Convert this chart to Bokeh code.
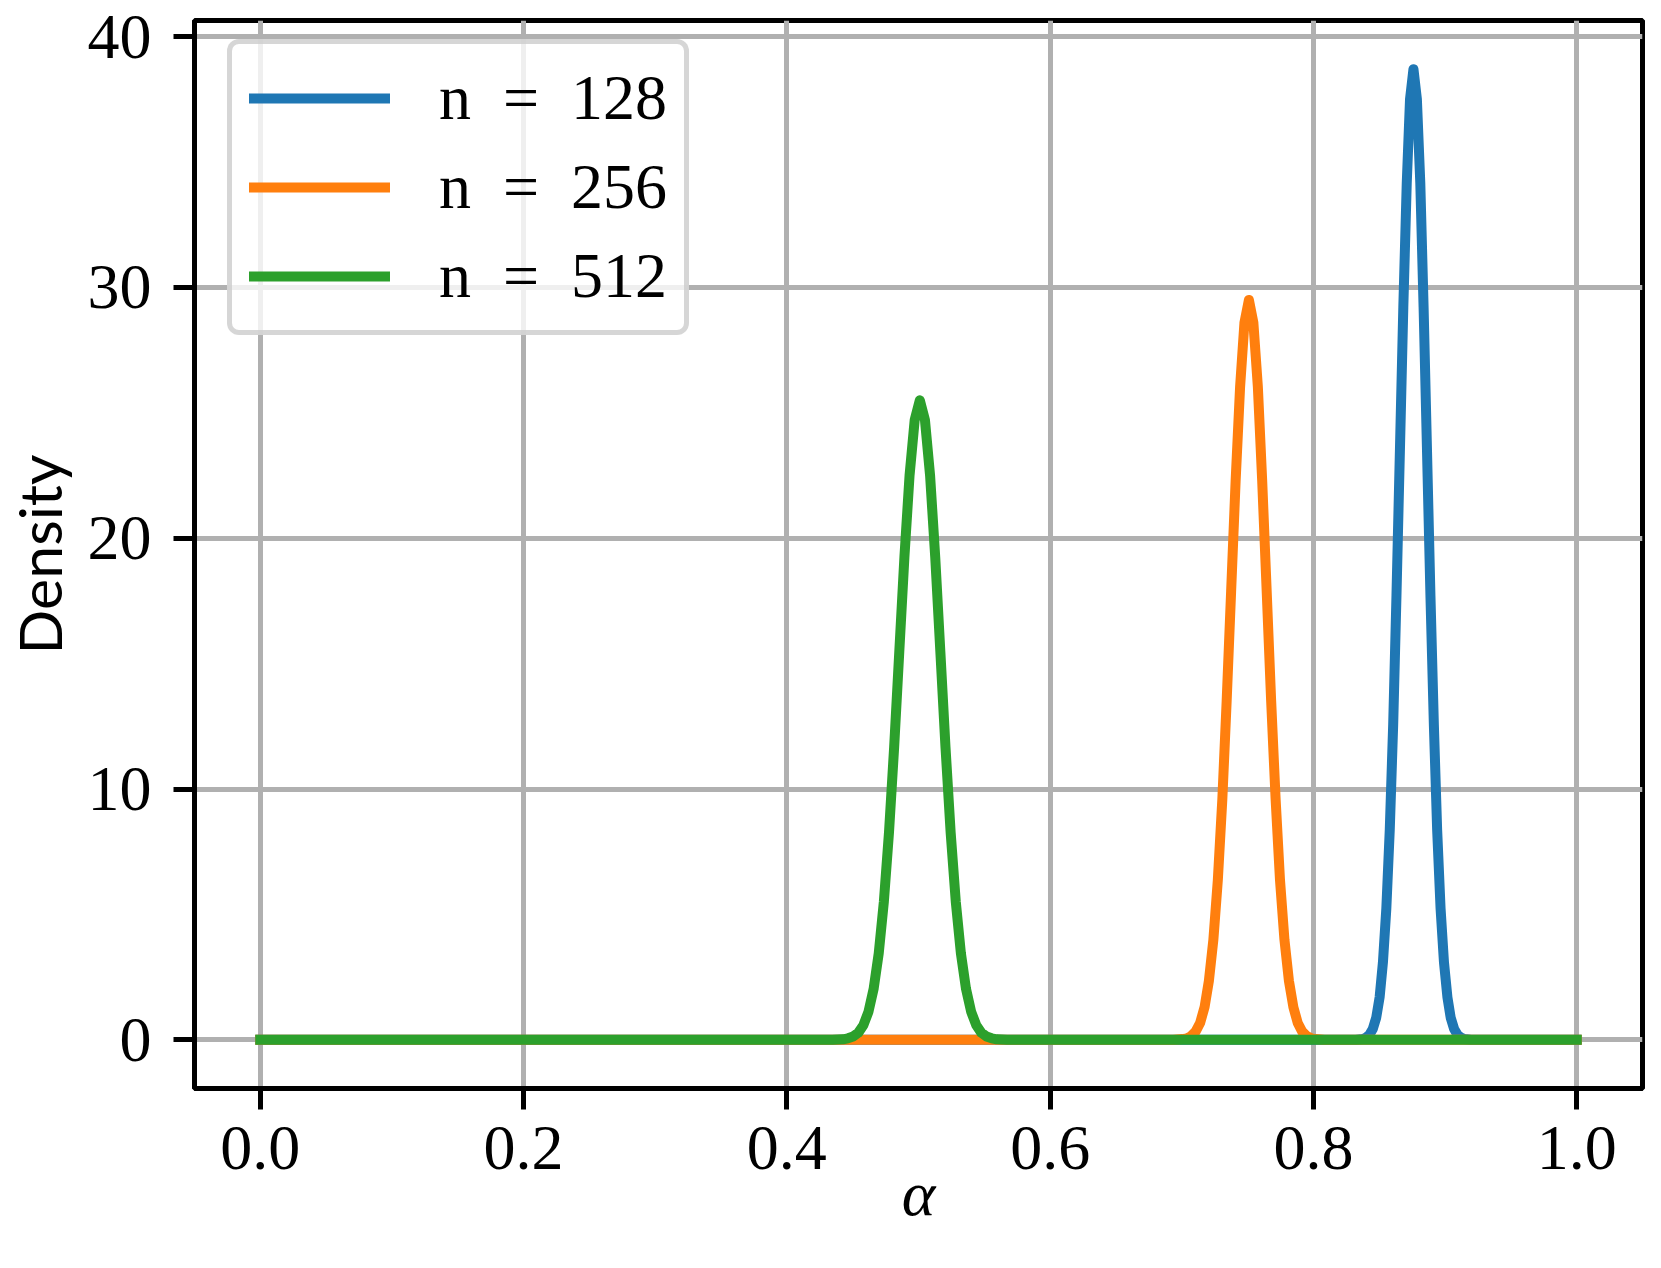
from bokeh.plotting import figure
from bokeh.models import Range1d, FixedTicker, Legend, LegendItem
from bokeh.embed import file_html
from bokeh.resources import INLINE

# ---- data ----
x_128 = [0.0, 0.8322, 0.8374, 0.8400, 0.8425, 0.8451, 0.8477, 0.8503, 0.8528, 0.8554, 0.8580, 0.8606, 0.8631,
         0.8657, 0.8683, 0.8709, 0.8734, 0.8760, 0.8786, 0.8812, 0.8837, 0.8863, 0.8889, 0.8915, 0.8940, 0.8966,
         0.8992, 0.9018, 0.9043, 0.9069, 0.9095, 0.9121, 0.9146, 0.9198, 1.0]
y_128 = [0.0, 0.0, 0.03, 0.09, 0.20, 0.43, 0.88, 1.70, 3.08, 5.24, 8.37, 12.57, 17.72,
         23.47, 29.21, 34.15, 37.51, 38.70, 37.51, 34.15, 29.21, 23.47, 17.72, 12.57, 8.37, 5.24,
         3.08, 1.70, 0.88, 0.43, 0.20, 0.09, 0.03, 0.0, 0.0]

x_256 = [0.0, 0.6936, 0.7004, 0.7038, 0.7071, 0.7105, 0.7139, 0.7173, 0.7206, 0.7240, 0.7274, 0.7308, 0.7341,
         0.7375, 0.7409, 0.7443, 0.7476, 0.7510, 0.7544, 0.7578, 0.7611, 0.7645, 0.7679, 0.7713, 0.7746, 0.7780,
         0.7814, 0.7848, 0.7881, 0.7915, 0.7949, 0.7983, 0.8016, 0.8084, 1.0]
y_256 = [0.0, 0.0, 0.03, 0.06, 0.15, 0.33, 0.67, 1.30, 2.35, 3.99, 6.38, 9.58, 13.51,
         17.89, 22.27, 26.03, 28.59, 29.50, 28.59, 26.03, 22.27, 17.89, 13.51, 9.58, 6.38, 3.99,
         2.35, 1.30, 0.67, 0.33, 0.15, 0.06, 0.03, 0.0, 0.0]

x_512 = [0.0, 0.4347, 0.4425, 0.4464, 0.4503, 0.4542, 0.4581, 0.4620, 0.4659, 0.4698, 0.4737, 0.4776, 0.4815,
         0.4854, 0.4893, 0.4932, 0.4971, 0.5010, 0.5049, 0.5088, 0.5127, 0.5166, 0.5205, 0.5244, 0.5283, 0.5322,
         0.5361, 0.5400, 0.5439, 0.5478, 0.5517, 0.5556, 0.5595, 0.5673, 1.0]
y_512 = [0.0, 0.0, 0.02, 0.06, 0.13, 0.28, 0.58, 1.12, 2.03, 3.45, 5.52, 8.28, 11.67,
         15.47, 19.25, 22.50, 24.71, 25.50, 24.71, 22.50, 19.25, 15.47, 11.67, 8.28, 5.52, 3.45,
         2.03, 1.12, 0.58, 0.28, 0.13, 0.06, 0.02, 0.0, 0.0]

series_labels = ["n \u00a0=\u00a0 128", "n \u00a0=\u00a0 256", "n \u00a0=\u00a0 512"]
series_colors = ["#1f77b4", "#ff7f0e", "#2ca02c"]

x_ticks = [0.0, 0.2, 0.4, 0.6, 0.8, 1.0]
x_tick_labels = ["0.0", "0.2", "0.4", "0.6", "0.8", "1.0"]
y_ticks = [0, 10, 20, 30, 40]
y_tick_labels = ["0", "10", "20", "30", "40"]

SERIF = "Liberation Serif"

p = figure(width=1645, height=1252, output_backend="svg", toolbar_location=None,
           x_range=Range1d(-0.05, 1.05), y_range=Range1d(-1.94, 40.64),
           min_border_left=194, min_border_right=3, min_border_top=20, min_border_bottom=164)
p.title.visible = False

renderers = []
for xs, ys, c in zip([x_128, x_256, x_512], [y_128, y_256, y_512], series_colors):
    r = p.line(xs, ys, line_color=c, line_width=10, line_join="round", line_cap="square")
    renderers.append(r)

# axes
for ax in (p.xaxis[0], p.yaxis[0]):
    ax.axis_line_width = 5
    ax.axis_line_color = "black"
    ax.major_tick_line_width = 5
    ax.major_tick_line_color = "black"
    ax.major_tick_out = 21
    ax.major_tick_in = 0
    ax.minor_tick_line_color = None
    ax.major_label_text_font = SERIF
    ax.major_label_text_font_size = "64px"
    ax.major_label_text_color = "black"

p.xaxis.ticker = FixedTicker(ticks=x_ticks)
p.yaxis.ticker = FixedTicker(ticks=y_ticks)
p.xaxis.major_label_overrides = {t: l for t, l in zip(x_ticks, x_tick_labels)}
p.yaxis.major_label_overrides = {t: l for t, l in zip(y_ticks, y_tick_labels)}
p.xaxis.major_label_standoff = 17
p.yaxis.major_label_standoff = 22

p.xaxis.axis_label = "α"
p.xaxis.axis_label_text_font = SERIF
p.xaxis.axis_label_text_font_style = "italic"
p.xaxis.axis_label_text_font_size = "64px"
p.xaxis.axis_label_text_color = "black"
p.xaxis.axis_label_standoff = -14

p.yaxis.axis_label = "Density"
p.yaxis.axis_label_text_font = "Lato"
p.yaxis.axis_label_text_font_style = "normal"
p.yaxis.axis_label_text_font_size = "59px"
p.yaxis.axis_label_text_color = "black"
p.yaxis.axis_label_standoff = 10

# grid
p.xgrid.grid_line_color = "#b0b0b0"
p.ygrid.grid_line_color = "#b0b0b0"
p.xgrid.grid_line_width = 5
p.ygrid.grid_line_width = 5

p.outline_line_color = "black"
p.outline_line_width = 5
p.outline_line_alpha = 1.0

legend = Legend(items=[LegendItem(label=l, renderers=[r]) for l, r in zip(series_labels, renderers)],
                location=(33, 753))
legend.margin = 0
legend.padding = 17
legend.spacing = 15
legend.glyph_width = 141
legend.glyph_height = 60
legend.label_height = 60
legend.label_standoff = 49
legend.label_text_font = SERIF
legend.label_text_font_size = "64px"
legend.label_text_color = "black"
legend.border_line_color = "#cccccc"
legend.border_line_width = 5
legend.border_line_alpha = 0.8
legend.background_fill_color = "white"
legend.background_fill_alpha = 0.8
if "border_radius" in Legend.properties():
    legend.border_radius = 12
p.add_layout(legend, "center")

open("out.html", "w").write(file_html(p, INLINE))
